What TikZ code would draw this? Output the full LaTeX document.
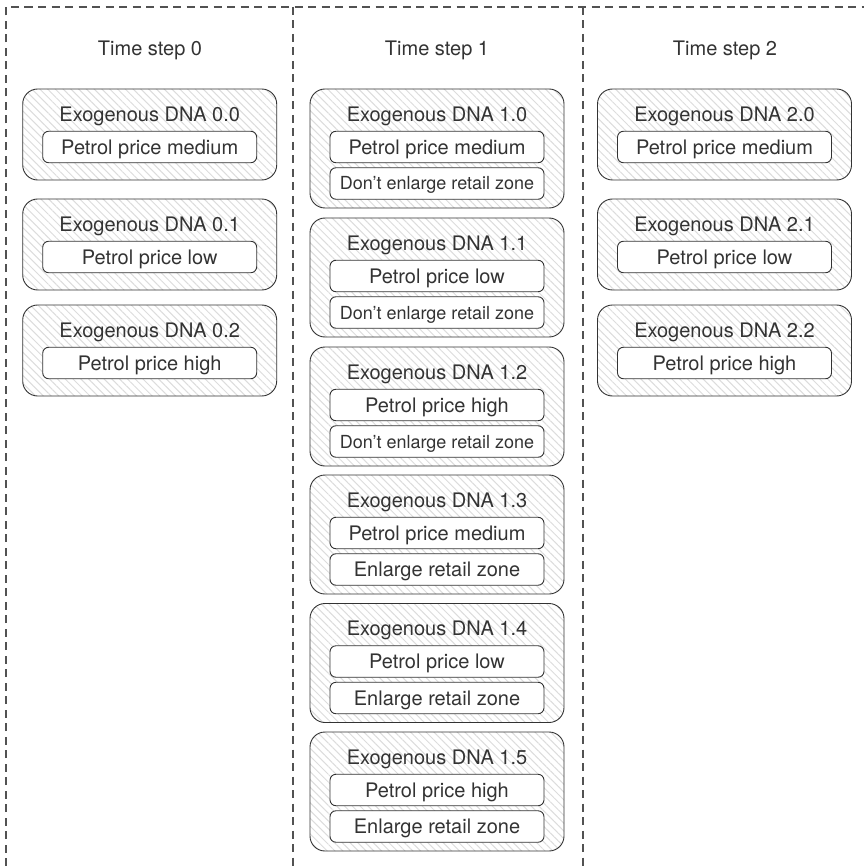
\documentclass[tikz,border=0pt]{standalone}
\usepackage{fontspec}
\setmainfont{TeX Gyre Heros}
\usetikzlibrary{patterns.meta}
\definecolor{ink}{HTML}{333333}
\definecolor{hatchc}{HTML}{DCDCDC}
\tikzset{
  sep/.style={draw=ink!85, line width=1.2pt, dash pattern=on 8pt off 5.5pt},
  dnabox/.style={draw=ink, line width=0.9pt, rounded corners=15pt,
    pattern={Lines[angle=-45,distance=5.5pt,line width=1pt]}, pattern color=hatchc,
    minimum width=254pt, inner sep=0pt},
  title/.style={text=ink, font=\fontsize{20}{24}\selectfont, text height=14.4pt, text depth=0pt, inner sep=0pt},
  item/.style={draw=ink, line width=0.9pt, fill=white, rounded corners=6pt, text=ink,
    font=\fontsize{20}{24}\selectfont, text height=14.4pt, text depth=0pt, inner sep=0pt,
    minimum width=214pt, minimum height=31.5pt},
  smallitem/.style={item, font=\fontsize{18}{22}\selectfont, text height=13pt},
}
\begin{document}
\begin{tikzpicture}[x=1pt,y=-1pt]
\useasboundingbox (0,0) rectangle (864,866);
% separators
\coordinate (tl) at (6,7);
\coordinate (tr) at (864,7);
\coordinate (bl) at (6,866);
\coordinate (s1t) at (293,7);
\coordinate (s1b) at (293,866);
\coordinate (s2t) at (583,7);
\coordinate (s2b) at (583,866);
\draw[sep] (bl) -- (tl) -- (tr);
\draw[sep] (s1t) -- (s1b);
\draw[sep] (s2t) -- (s2b);
% headers
\node[title] (h0) at (150,48) {Time step 0};
\node[title] (h1) at (437,48) {Time step 1};
\node[title] (h2) at (725,48) {Time step 2};
% column 0 and 2
\foreach \i/\top/\price in {0/89/medium,1/199/low,2/305/high}{
  \foreach \c/\x in {0/149.7,2/724.5}{
    \node[dnabox, minimum height=91pt] (b\c\i) at (\x,\top+45.5) {};
    \node[title] (t\c\i) at (\x,\top+25) {Exogenous DNA \c.\i};
    \node[item] (p\c\i) at (\x,\top+58) {Petrol price \price};
  }
}
% column 1
\foreach \i/\top/\price/\zone in {0/89/medium/0,1/218/low/0,2/347/high/0,3/475/medium/1,4/603.5/low/1,5/732/high/1}{
  \node[dnabox, minimum height=119pt] (b1\i) at (437,\top+59.5) {};
  \node[title] (t1\i) at (437,\top+25) {Exogenous DNA 1.\i};
  \node[item] (p1\i) at (437,\top+58) {Petrol price \price};
  \ifnum\zone=0
    \node[smallitem] (z1\i) at (437,\top+94.5) {Don’t enlarge retail zone};
  \else
    \node[item] (z1\i) at (437,\top+94.5) {Enlarge retail zone};
  \fi
}
\end{tikzpicture}
\end{document}
